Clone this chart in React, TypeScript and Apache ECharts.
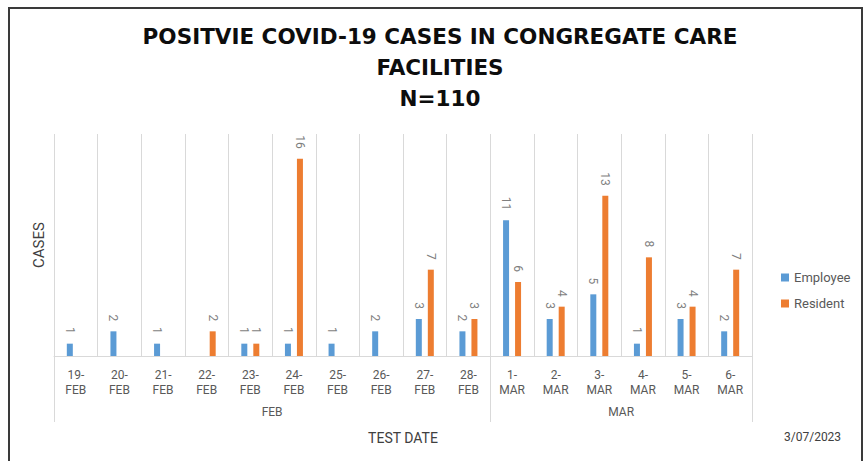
import React, { useEffect, useRef } from "react";
import * as echarts from "echarts";

const categories = [
  "19-FEB", "20-FEB", "21-FEB", "22-FEB", "23-FEB", "24-FEB", "25-FEB", "26-FEB",
  "27-FEB", "28-FEB", "1-MAR", "2-MAR", "3-MAR", "4-MAR", "5-MAR", "6-MAR",
];
const employee = [1, 2, 1, 0, 1, 1, 1, 2, 3, 2, 11, 3, 5, 1, 3, 2];
const resident = [0, 0, 0, 2, 1, 16, 0, 0, 7, 3, 6, 4, 13, 8, 4, 7];
const titleText = "POSITVIE COVID-19 CASES IN CONGREGATE CARE\nFACILITIES\nN=110";
const dateStamp = "3/07/2023";

const FONT = "Roboto, 'Liberation Sans', sans-serif";
const TITLE_FONT = "'DejaVu Sans', Roboto, sans-serif";

// Build month group axis (half-slot points) from categories
const monthOf = categories.map((c) => c.split("-")[1]);
const groupPoints: string[] = new Array(categories.length * 2 + 1).fill("");
const groupBoundaries: number[] = [0];
{
  let start = 0;
  for (let i = 1; i <= monthOf.length; i++) {
    if (i === monthOf.length || monthOf[i] !== monthOf[start]) {
      groupPoints[start + i] = monthOf[start];
      groupBoundaries.push(i * 2);
      start = i;
    }
  }
}

export default function App() {
  const ref = useRef<HTMLDivElement>(null);
  useEffect(() => {
    if (!ref.current) return;
    const chart = echarts.init(ref.current, undefined, { renderer: "svg" });
    const labelCfg = {
      show: true,
      position: "top" as const,
      rotate: -90,
      align: "right" as const,
      verticalAlign: "middle" as const,
      distance: 10,
      color: "#7f7f7f",
      fontSize: 12,
      fontFamily: FONT,
      formatter: (p: any) => (p.value ? String(p.value) : ""),
    };
    chart.setOption({
      animation: false,
      backgroundColor: "#ffffff",
      title: {
        text: titleText,
        left: 435,
        textAlign: "center",
        top: 16,
        textStyle: {
          fontFamily: TITLE_FONT,
          fontWeight: "bold",
          fontSize: 21.5,
          lineHeight: 31,
          color: "#0d0d0d",
        },
      },
      legend: {
        orient: "vertical",
        left: 776,
        top: 266,
        itemWidth: 8,
        itemHeight: 8,
        itemGap: 13,
        icon: "rect",
        textStyle: { fontFamily: FONT, fontSize: 13, color: "#595959" },
        data: ["Employee", "Resident"],
      },
      grid: { left: 54, right: 112, top: 134, bottom: 105 },
      xAxis: [
        {
          type: "category",
          data: categories,
          position: "bottom",
          axisLine: { show: true, lineStyle: { color: "#d9d9d9" } },
          axisTick: { show: false },
          splitLine: { show: true, interval: 0, lineStyle: { color: "#d9d9d9" } },
          axisLabel: {
            interval: 0,
            margin: 11,
            fontFamily: FONT,
            fontSize: 12,
            lineHeight: 15,
            color: "#595959",
            formatter: (v: string) => v.replace("-", "-\n"),
          },
          name: "TEST DATE",
          nameLocation: "middle",
          nameGap: 75,
          nameTextStyle: { fontFamily: FONT, fontSize: 14, color: "#404040" },
        },
        {
          type: "category",
          data: groupPoints,
          position: "bottom",
          boundaryGap: false,
          axisLine: { show: false },
          axisTick: {
            show: true,
            length: 66,
            interval: (i: number) => groupBoundaries.includes(i),
            lineStyle: { color: "#d9d9d9" },
          },
          splitLine: { show: false },
          axisLabel: {
            interval: 0,
            margin: 50,
            fontFamily: FONT,
            fontSize: 12,
            color: "#595959",
          },
        },
      ],
      yAxis: {
        type: "value",
        min: 0,
        max: 18,
        axisLine: { show: false },
        axisTick: { show: false },
        axisLabel: { show: false },
        splitLine: { show: false },
        name: "CASES",
        nameLocation: "middle",
        nameGap: 8,
        nameTextStyle: { fontFamily: FONT, fontSize: 15, color: "#404040" },
      },
      series: [
        {
          name: "Employee",
          type: "bar",
          data: employee,
          barWidth: 6,
          barGap: "100%",
          itemStyle: { color: "#5B9BD5" },
          label: labelCfg,
        },
        {
          name: "Resident",
          type: "bar",
          data: resident,
          barWidth: 6,
          barGap: "100%",
          itemStyle: { color: "#ED7D31" },
          label: labelCfg,
        },
      ],
      graphic: [
        {
          type: "text",
          left: 784,
          top: 431,
          style: {
            text: dateStamp,
            fontFamily: FONT,
            fontSize: 12,
            fill: "#404040",
          },
        },
      ],
    });
    return () => chart.dispose();
  }, []);
  return (
    <div>
      <div
        ref={ref}
        style={{ position: "absolute", left: 0, top: 0, width: 864, height: 461 }}
      />
      <div
        style={{
          position: "absolute",
          left: 8,
          top: 7,
          width: 855,
          height: 454,
          boxSizing: "border-box",
          border: "2px solid #3a3a3a",
          borderBottom: "none",
          pointerEvents: "none",
        }}
      />
    </div>
  );
}
